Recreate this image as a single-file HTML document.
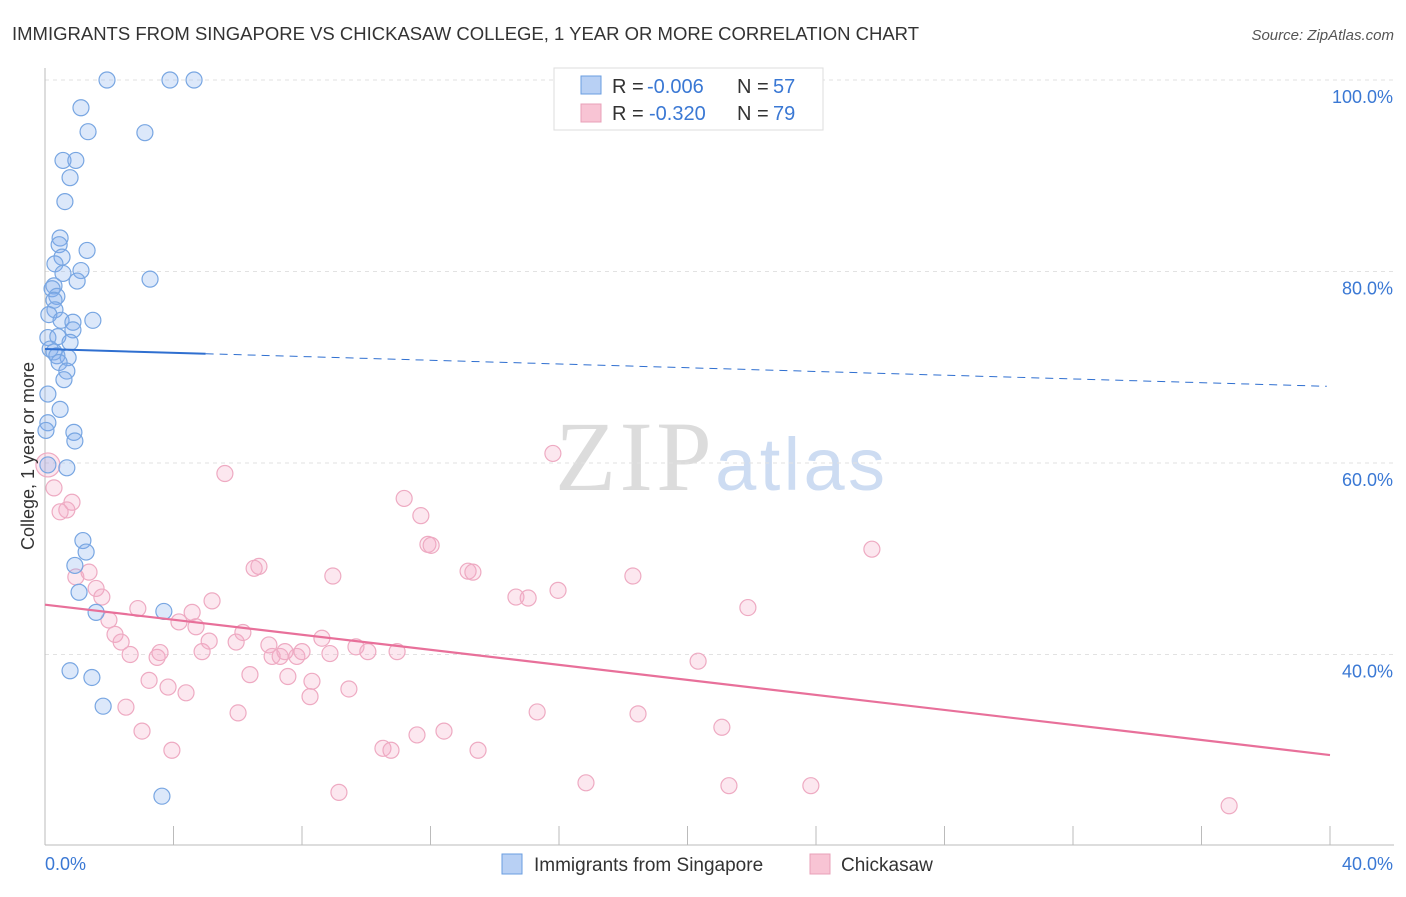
<!DOCTYPE html>
<html><head><meta charset="utf-8">
<style>
body{margin:0;background:#fff;font-family:"Liberation Sans",sans-serif;}
svg text{font-family:"Liberation Sans",sans-serif;}
</style></head>
<body>
<svg id="chart" width="1406" height="892" viewBox="0 0 1406 892" xmlns="http://www.w3.org/2000/svg">
<text x="12" y="40" font-size="18.5" fill="#333" textLength="907">IMMIGRANTS FROM SINGAPORE VS CHICKASAW COLLEGE, 1 YEAR OR MORE CORRELATION CHART</text>
<text x="1394" y="40" font-size="15" fill="#555" text-anchor="end" font-style="italic">Source: ZipAtlas.com</text>
<text x="555" y="490" font-size="100" textLength="330"><tspan fill="#dcdcdc" font-family="Liberation Serif">ZIP</tspan><tspan fill="#cddcf2" font-size="74">atlas</tspan></text>
<g id="grid"></g>
<g id="axes"></g>
<g id="marks"></g>
<text transform="translate(34,456) rotate(-90)" font-size="18" fill="#333" text-anchor="middle">College, 1 year or more</text>
<g>
<rect x="554" y="68" width="269" height="62" fill="#fff" stroke="#ddd"/>
<rect x="581" y="76" width="20" height="18" fill="#b8d0f4" stroke="#6a9ee0"/>
<text x="612" y="93" font-size="20" fill="#333">R =</text>
<text x="647" y="93" font-size="20" fill="#3a78d4">-0.006</text>
<text x="737" y="93" font-size="20" fill="#333">N =</text>
<text x="773" y="93" font-size="20" fill="#3a78d4">57</text>
<rect x="581" y="104" width="20" height="18" fill="#f8c4d4" stroke="#e8a0b8"/>
<text x="612" y="120" font-size="20" fill="#333">R =</text>
<text x="649" y="120" font-size="20" fill="#3a78d4">-0.320</text>
<text x="737" y="120" font-size="20" fill="#333">N =</text>
<text x="773" y="120" font-size="20" fill="#3a78d4">79</text>
</g>
<g>
<rect x="502" y="854" width="20" height="20" fill="#b8d0f4" stroke="#6a9ee0"/>
<text x="534" y="871" font-size="19" fill="#333">Immigrants from Singapore</text>
<rect x="810" y="854" width="20" height="20" fill="#f8c4d4" stroke="#e8a0b8"/>
<text x="841" y="871" font-size="19" fill="#333">Chickasaw</text>
</g>
</svg>
<script>
const blueX=[1.93,3.89,4.64,1.12,1.34,3.11,0.56,0.96,0.78,0.62,0.47,0.44,1.31,0.53,0.31,0.56,1.12,1.0,3.27,0.28,0.22,0.37,0.28,0.31,0.12,0.5,0.87,1.49,0.87,0.09,0.4,0.78,0.16,0.28,0.37,0.72,0.44,0.68,0.59,0.09,0.47,0.09,0.9,0.93,0.68,1.18,1.28,0.93,1.06,1.59,3.7,0.78,1.46,1.81,3.64,0.09,0.03];
const blueY=[100,100,100,97.1,94.6,94.5,91.6,91.6,89.8,87.3,83.5,82.8,82.2,81.5,80.8,79.8,80.1,79.0,79.2,78.5,78.2,77.4,77.0,76.0,75.5,74.9,74.7,74.9,73.9,73.1,73.2,72.6,71.9,71.6,71.2,71.0,70.5,69.6,68.7,67.2,65.6,64.2,63.2,62.3,59.5,51.9,50.7,49.3,46.5,44.4,44.5,38.3,37.6,34.6,25.2,59.8,63.4];
const pinkX=[0.09,0.28,0.84,0.68,0.47,5.6,15.81,11.18,11.7,11.92,12.02,25.74,0.96,1.37,1.59,1.77,5.2,2.89,4.58,1.99,4.17,4.7,8.96,6.66,6.51,13.17,13.32,18.3,15.97,14.66,15.04,21.88,2.18,2.37,2.65,3.49,3.58,4.89,5.11,5.95,6.16,6.97,7.07,7.32,7.47,7.84,8.0,8.62,8.87,9.68,10.05,10.96,20.33,6.38,7.56,8.31,3.24,3.83,4.39,8.25,9.46,2.52,6.01,15.32,18.46,3.02,3.95,10.52,10.77,11.58,12.42,13.48,21.07,16.84,21.29,23.84,9.15,36.86];
const pinkY=[59.8,57.4,55.9,55.1,54.9,58.9,61.0,56.3,54.5,51.5,51.4,51.0,48.1,48.6,46.9,46.0,45.6,44.8,44.4,43.6,43.4,42.9,48.2,49.2,49.0,48.7,48.6,48.2,46.7,46.0,45.9,44.9,42.1,41.3,40.0,39.7,40.2,40.3,41.4,41.3,42.3,41.0,39.8,39.8,40.3,39.8,40.3,41.7,40.1,40.8,40.3,40.3,39.3,37.9,37.7,37.2,37.3,36.6,36.0,35.6,36.4,34.5,33.9,34.0,33.8,32.0,30.0,30.2,30.0,31.6,32.0,30.0,32.4,26.6,26.3,26.3,25.6,24.2];
const blueTrend=[71.9,68.0];
const pinkTrend=[45.2,29.5];
const yTicks=[100,80,60,40];
const yTickLabels=["100.0%","80.0%","60.0%","40.0%"];
const xTicks=[0,4,8,12,16,20,24,28,32,36,40];

const NS="http://www.w3.org/2000/svg";
const X=v=>45+v*32.125;
const Y=v=>80+(100-v)*9.575;
function mk(tag,attrs,parent){const e=document.createElementNS(NS,tag);for(const k in attrs)e.setAttribute(k,attrs[k]);parent.appendChild(e);return e;}
const grid=document.getElementById('grid'),axes=document.getElementById('axes'),marks=document.getElementById('marks');
yTicks.forEach((t,i)=>{
  const l=mk('line',{x1:45,x2:1394,y1:Y(t),y2:Y(t),stroke:'#e2e2e2','stroke-dasharray':'4,4'},grid);
  
  
  const tx=mk('text',{x:1393,y:Y(t)+23,'font-size':18,fill:'#3a78d4','text-anchor':'end'},axes);
  tx.textContent=yTickLabels[i];
  
  
});
mk('line',{x1:45,x2:45,y1:68,y2:845,stroke:'#bbb'},axes);
mk('line',{x1:45,x2:1394,y1:845,y2:845,stroke:'#bbb'},axes);
xTicks.forEach(t=>{
  const l=mk('line',{x1:X(t),x2:X(t),y1:826,y2:845,stroke:'#bbb'},axes);
  
  
});
const xl0=mk('text',{x:45,y:870,'font-size':18,fill:'#3a78d4'},axes);xl0.textContent='0.0%';


const xl1=mk('text',{x:1393,y:870,'font-size':18,fill:'#3a78d4','text-anchor':'end'},axes);xl1.textContent='40.0%';



pinkX.forEach((x,i)=>{
  const c=mk('circle',{cx:X(x),cy:Y(pinkY[i]),r:i==0?12:8,fill:'rgba(244,170,196,0.28)',stroke:'#eeaac2','stroke-width':1.2},marks);
  
  
});
blueX.forEach((x,i)=>{
  const c=mk('circle',{cx:X(x),cy:Y(blueY[i]),r:8,fill:'rgba(130,172,236,0.28)',stroke:'#78a6e2','stroke-width':1.2},marks);
  
  
});
const bAt=x=>blueTrend[0]+(blueTrend[1]-blueTrend[0])*x/40;
const b1=mk('line',{x1:X(0),y1:Y(bAt(0)),x2:X(5),y2:Y(bAt(5)),stroke:'#2f6fd0','stroke-width':2},marks);


const b2=mk('line',{x1:X(5),y1:Y(bAt(5)),x2:X(39.9),y2:Y(bAt(39.9)),stroke:'#2f6fd0','stroke-width':1,'stroke-dasharray':'8,6'},marks);


const p1=mk('line',{x1:X(0),y1:Y(pinkTrend[0]),x2:X(40),y2:Y(pinkTrend[1]),stroke:'#e8709a','stroke-width':2.2},marks);


</script>
</body></html>
